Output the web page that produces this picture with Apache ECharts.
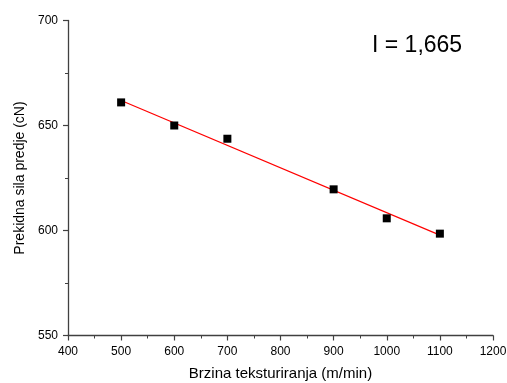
<!DOCTYPE html>
<html>
<head>
<meta charset="utf-8">
<script src="https://cdn.jsdelivr.net/npm/echarts@6/dist/echarts.min.js"></script>
<style>html,body{margin:0;padding:0;background:#fff}#c{width:507px;height:383px}</style>
</head>
<body>
<div id="c"></div>
<script>
var speeds = [500, 600, 700, 900, 1000, 1100];
var forces = [661, 650, 643.7, 619.6, 605.8, 598.5];
var fitX = [500, 1100];
var fitY = [661.9, 597.8];
var annotation = 'I = 1,665';
var xTitle = 'Brzina teksturiranja (m/min)';
var yTitle = 'Prekidna sila predje (cN)';

var chart = echarts.init(document.getElementById('c'), null, {renderer: 'canvas'});
var font = '"Liberation Sans", Arial, sans-serif';
var axisCol = '#404040';
chart.setOption({
  animation: false,
  backgroundColor: '#fff',
  grid: {left: 68, right: 14, top: 20.5, bottom: 47.5, containLabel: false, outerBoundsMode: 'none'},
  xAxis: {
    type: 'value', min: 400, max: 1200, interval: 100,
    name: xTitle, nameLocation: 'middle', nameGap: 31,
    nameTextStyle: {fontFamily: font, fontSize: 15, color: '#000'},
    axisLine: {show: true, onZero: false, lineStyle: {color: axisCol, width: 1.3}},
    axisTick: {show: true, inside: false, length: 5, lineStyle: {color: axisCol, width: 1.2}},
    minorTick: {show: true, splitNumber: 2, length: 3, lineStyle: {color: axisCol, width: 1}},
    axisLabel: {fontFamily: font, fontSize: 12, color: '#000', margin: 10,
      formatter: function (v) { return String(v); }},
    splitLine: {show: false}
  },
  yAxis: {
    type: 'value', min: 550, max: 700, interval: 50,
    name: yTitle, nameLocation: 'middle', nameGap: 41, nameRotate: 90,
    nameTextStyle: {fontFamily: font, fontSize: 14, color: '#000'},
    axisLine: {show: true, onZero: false, lineStyle: {color: axisCol, width: 1.3}},
    axisTick: {show: true, inside: false, length: 5, lineStyle: {color: axisCol, width: 1.2}},
    minorTick: {show: true, splitNumber: 2, length: 3, lineStyle: {color: axisCol, width: 1}},
    axisLabel: {fontFamily: font, fontSize: 12, color: '#000', margin: 10,
      formatter: function (v) { return String(v); }},
    splitLine: {show: false}
  },
  series: [
    {
      type: 'line',
      data: fitX.map(function (x, i) { return [x, fitY[i]]; }),
      showSymbol: false, symbol: 'none',
      lineStyle: {color: '#ff0000', width: 1.2},
      z: 2
    },
    {
      type: 'scatter',
      data: speeds.map(function (x, i) { return [x, forces[i]]; }),
      symbol: 'rect', symbolSize: 8,
      itemStyle: {color: '#000', opacity: 1},
      z: 3
    }
  ],
  graphic: [{
    type: 'text', left: 372, top: 34,
    style: {text: annotation, font: '23px "Liberation Sans", Arial, sans-serif', fill: '#000'}
  }]
});
</script>
</body>
</html>
